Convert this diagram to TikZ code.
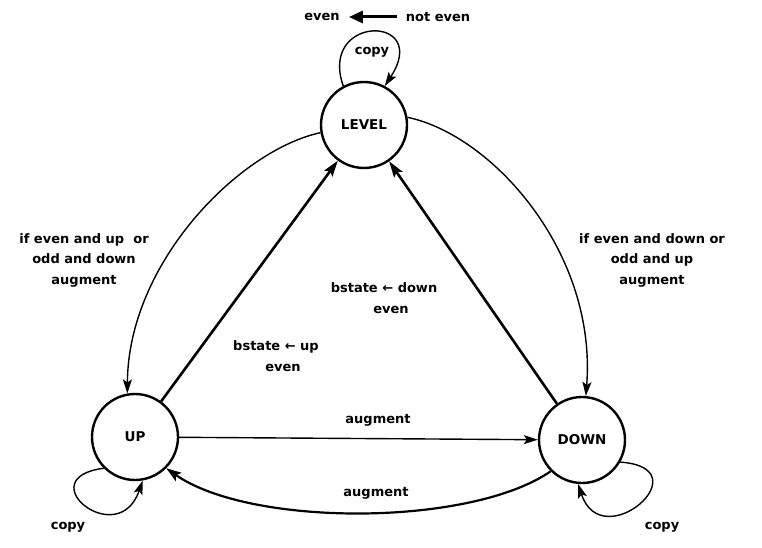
\documentclass[tikz,border=0pt]{standalone}
\usepackage{fontspec}
\setmainfont{DejaVu Sans}
\usetikzlibrary{arrows.meta}
\begin{document}
\begin{tikzpicture}[x=1pt,y=-1pt,
  state/.style={circle,draw,line width=2.4pt,minimum size=86pt,inner sep=0pt,font=\fontsize{13.5}{16}\selectfont\bfseries},
  lbl/.style={font=\fontsize{13}{20.5}\selectfont\bfseries,align=center,inner sep=1pt},
  arcline/.style={line width=1.4pt,-{Stealth[length=14pt,width=9pt,inset=3pt]}},
  boldline/.style={line width=2.6pt,-{Stealth[length=16pt,width=10pt,inset=3pt]}},
]
\useasboundingbox (0,0) rectangle (762,548);

\node[state] (LEVEL) at (364,125) {LEVEL};
\node[state] (UP) at (135,437) {UP};
\node[state] (DOWN) at (582,440) {DOWN};

% title
\node[lbl] (t1) at (322,17) {even};
\node[lbl] (t2) at (438,17) {not even};
\draw[line width=3pt,-{Triangle[length=14pt,width=12pt]},shorten >=8pt,shorten <=8pt] (t2) -- (t1);

% self loops
\draw[arcline] (LEVEL.118) .. controls (318,14) and (432,14) .. (LEVEL.62);
\node[lbl] (c1) at (372,52) {copy};

\draw[arcline] (UP.225) .. controls (28,478) and (118,552) .. (UP.280);
\node[lbl] (c2) at (68,527) {copy};

\draw[arcline] (DOWN.330) .. controls (704,468) and (602,557) .. (DOWN.265);
\node[lbl] (c3) at (662,527) {copy};

% side curves
\draw[arcline] (LEVEL.190) .. controls (240,150) and (128,262) .. (UP.100);
\node[lbl] (l1) at (84,260) {if even and up\ \ or\\odd and down\\augment};

\draw[arcline] (LEVEL.10) .. controls (492,135) and (597,252) .. (DOWN.85);
\node[lbl] (l2) at (652,260) {if even and down or\\odd and up\\augment};

% straight edges to LEVEL
\draw[boldline] (UP) -- (LEVEL);
\node[lbl] (l3) at (276,356) {bstate ← up\\\hspace*{14pt}even};

\draw[boldline] (DOWN) -- (LEVEL);
\node[lbl] (l4) at (384,298) {bstate ← down\\\hspace*{14pt}even};

% UP -> DOWN
\draw[arcline] (UP) -- (DOWN);
\node[lbl] (l5) at (378,420) {augment};

% DOWN -> UP bottom
\draw[line width=2.2pt,-{Stealth[length=15pt,width=10pt,inset=3pt]}] (DOWN.225) .. controls (470,527) and (250,527) .. (UP.315);
\node[lbl] (l6) at (376,493) {augment};
\end{tikzpicture}
\end{document}
